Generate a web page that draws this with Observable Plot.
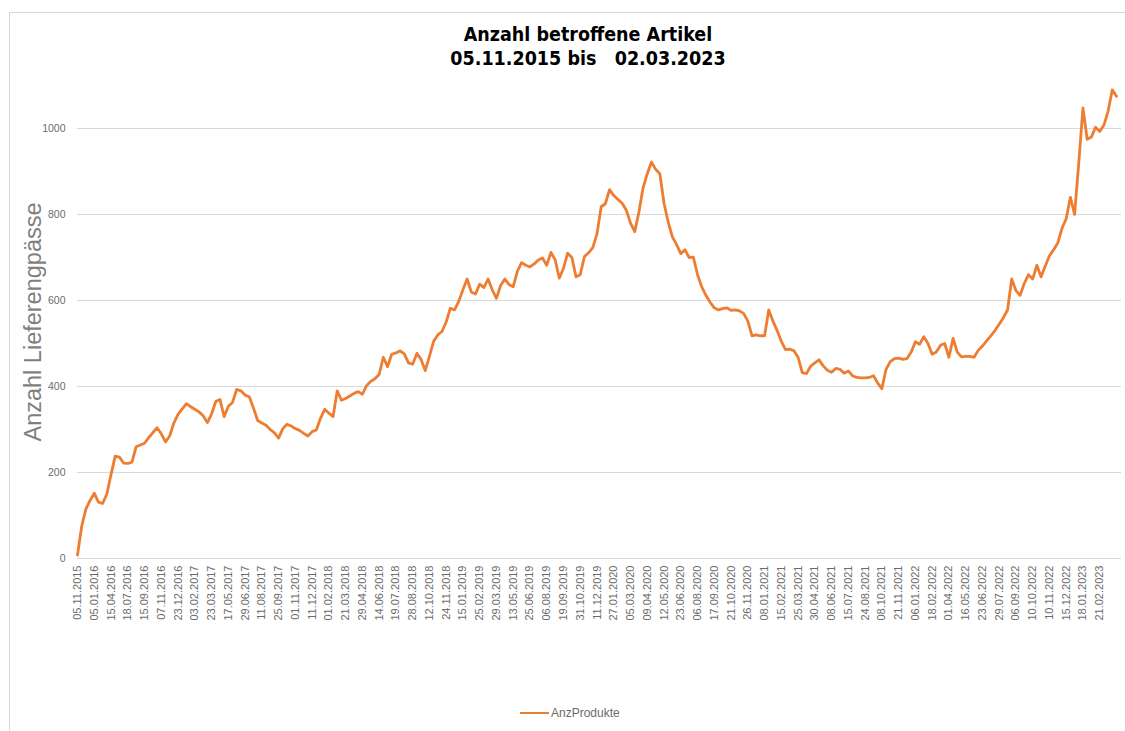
<!DOCTYPE html>
<html>
<head>
<meta charset="utf-8">
<script src="https://cdn.jsdelivr.net/npm/d3@7"></script>
<script src="https://cdn.jsdelivr.net/npm/@observablehq/plot@0.6"></script>
<style>
  html, body { margin: 0; padding: 0; background: #fff; }
  #wrap { position: relative; width: 1125px; height: 731px; overflow: hidden; }
  #frame { position: absolute; left: 9px; top: 12px; width: 1120px; height: 740px; border: 1px solid #d9d9d9; box-sizing: border-box; }
  #title { position: absolute; left: 0; top: 23px; width: 1176px; text-align: center; font-family: "Liberation Sans Narrow", "DejaVu Sans Condensed", "Liberation Sans", sans-serif; font-weight: bold; font-size: 19.5px; line-height: 24px; color: #000; white-space: pre; }
  #chart { position: absolute; left: 0; top: 0; }
  #legend { position: absolute; top: 706px; left: 520px; font-family: "Liberation Sans", sans-serif; font-size: 12px; color: #6b6b6b; display: flex; align-items: center; }
  #legend .sw { width: 29px; height: 2.5px; background: #ED7D31; margin-right: 2px; }
</style>
</head>
<body>
<div id="wrap">
  <div id="frame"></div>
  <div id="chart"></div>
  <div id="title"></div>
  <div id="legend"><span class="sw"></span><span id="legtext"></span></div>
</div>
<script>
const titleLines = ["Anzahl betroffene Artikel", "05.11.2015 bis   02.03.2023"];
const yTitle = "Anzahl Lieferengpässe";
const seriesName = "AnzProdukte";

// x-axis category labels (one every 4 data points)
const tickLabels = [
  "05.11.2015","05.01.2016","15.04.2016","18.07.2016","15.09.2016","07.11.2016","23.12.2016","03.02.2017",
  "23.03.2017","17.05.2017","29.06.2017","11.08.2017","25.09.2017","01.11.2017","11.12.2017","01.02.2018",
  "21.03.2018","29.04.2018","14.06.2018","19.07.2018","28.08.2018","12.10.2018","24.11.2018","15.01.2019",
  "25.02.2019","29.03.2019","13.05.2019","25.06.2019","06.08.2019","19.09.2019","31.10.2019","11.12.2019",
  "27.01.2020","05.03.2020","09.04.2020","12.05.2020","23.06.2020","06.08.2020","17.09.2020","21.10.2020",
  "26.11.2020","08.01.2021","15.02.2021","25.03.2021","30.04.2021","08.06.2021","15.07.2021","24.08.2021",
  "08.10.2021","21.11.2021","06.01.2022","18.02.2022","01.04.2022","16.05.2022","23.06.2022","29.07.2022",
  "06.09.2022","10.10.2022","10.11.2022","15.12.2022","18.01.2023","21.02.2023"
];
const pointsPerLabel = 4;

const yTicks = [0, 200, 400, 600, 800, 1000];

// AnzProdukte
const anzProdukte = [
  8, 75, 115, 135, 152, 131, 128, 150, 195, 238,
  236, 222, 221, 224, 260, 264, 268, 281, 293, 304,
  290, 271, 285, 315, 335, 348, 360, 353, 347, 341,
  332, 316, 336, 365, 370, 330, 354, 363, 393, 390,
  380, 376, 350, 321, 315, 310, 300, 292, 280, 302,
  312, 308, 302, 298, 291, 285, 295, 299, 326, 347,
  338, 330, 390, 368, 372, 378, 384, 388, 382, 402,
  412, 418, 428, 468, 446, 475, 478, 483, 476, 455,
  452, 477, 463, 437, 470, 505, 520, 528, 550, 582,
  578, 598, 625, 650, 620, 615, 638, 630, 650, 625,
  605, 635, 650, 637, 632, 668, 688, 682, 678, 685,
  694, 699, 682, 712, 695, 652, 675, 710, 700, 655,
  660, 702, 711, 723, 755, 818, 825, 858, 844, 835,
  826, 810, 780, 760, 805, 862, 895, 922, 905, 895,
  826, 782, 748, 730, 709, 718, 700, 701, 660, 632,
  612, 596, 583, 578, 581, 583, 577, 578, 576, 570,
  552, 518, 520, 518, 518, 578, 552, 530, 505, 486,
  487, 483, 468, 432, 430, 447, 455, 462, 448, 438,
  433, 442, 440, 431, 436, 425, 421, 420, 420, 421,
  425, 408, 395, 440, 458, 465, 466, 463, 465, 480,
  504, 498, 516, 500, 475, 480, 496, 500, 468, 512,
  480, 469, 470, 470, 468, 484, 494, 506, 518, 530,
  545, 560, 578, 650, 623, 612, 640, 660, 650, 682,
  655, 680, 704, 718, 734, 768, 790, 840, 800, 920,
  1048, 975, 980, 1003, 993, 1008, 1040, 1090, 1075
];

document.getElementById("title").textContent = titleLines.join("\n");
document.getElementById("legtext").textContent = seriesName;

const data = anzProdukte.map((v, i) => ({i, v}));
const tickPos = tickLabels.map((_, k) => k * pointsPerLabel);
const labelAt = new Map(tickPos.map((p, k) => [p, tickLabels[k]]));

const chart = Plot.plot({
  width: 1125,
  height: 680,
  marginTop: 85,
  marginBottom: 122,
  marginLeft: 77,
  marginRight: 4,
  style: {fontFamily: "'Liberation Sans', sans-serif", color: "#6b6b6b", background: "transparent"},
  x: {domain: [0, anzProdukte.length + 0.2]},
  y: {domain: [0, 1100]},
  marks: [
    Plot.gridY(yTicks, {stroke: "#d9d9d9", strokeOpacity: 1, strokeWidth: 1}),
    Plot.axisY(yTicks, {tickSize: 0, tickPadding: 12, fontSize: 10.5, label: null, tickFormat: d => String(d)}),
    Plot.axisX(tickPos, {tickSize: 0, tickPadding: 7, tickRotate: -90, fontSize: 11, label: null, tickFormat: d => labelAt.get(d)}),
    Plot.text([yTitle], {frameAnchor: "left", dx: -44, rotate: -90, textAnchor: "middle", fontSize: 23.5, fill: "#7f7f7f"}),
    Plot.line(data, {x: "i", y: "v", stroke: "#ED7D31", strokeWidth: 2.8, strokeLinejoin: "round"})
  ]
});
document.getElementById("chart").appendChild(chart);
</script>
</body>
</html>
